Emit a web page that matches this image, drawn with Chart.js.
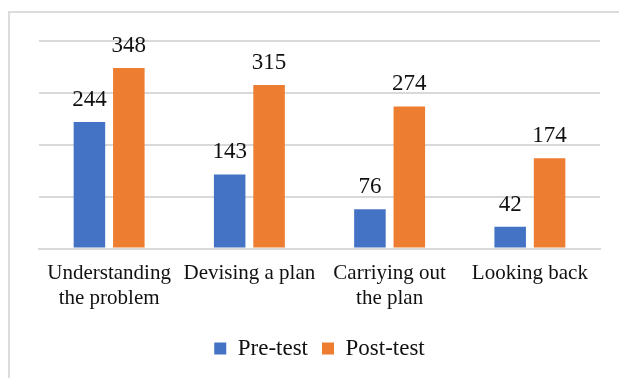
<!DOCTYPE html>
<html>
<head>
<meta charset="utf-8">
<script src="https://cdn.jsdelivr.net/npm/chart.js@4"></script>
<style>
  html, body { margin: 0; padding: 0; background: #fff; overflow: hidden; }
  #wrap { position: relative; width: 619px; height: 378px; overflow: hidden; }
  #frame { position: absolute; left: 8px; top: 11px; width: 700px; height: 500px;
           border: 2px solid #dcdcdc; box-sizing: border-box; }
  canvas { position: absolute; left: 0; top: 0; }
</style>
</head>
<body>
<div id="wrap">
  <div id="frame"></div>
  <canvas id="c" width="619" height="378"></canvas>
</div>
<script>
// Problem-solving stages (Polya) and scores before/after
const categories = [
  ['Understanding', 'the problem'],
  'Devising a plan',
  ['Carriying out', 'the plan'],
  'Looking back'
];
const preTest = [244, 143, 76, 42];
const postTest = [348, 315, 274, 174];
const yTicks = [0, 100, 200, 300, 400];

const FONT = "'Liberation Serif', 'Times New Roman', serif";

// Writes each bar's value above it
const valueLabels = {
  id: 'valueLabels',
  afterDatasetsDraw(chart) {
    const ctx = chart.ctx;
    ctx.save();
    ctx.font = '23px ' + FONT;
    ctx.fillStyle = '#111';
    ctx.textAlign = 'center';
    ctx.textBaseline = 'alphabetic';
    chart.data.datasets.forEach((ds, i) => {
      chart.getDatasetMeta(i).data.forEach((bar, j) => {
        ctx.fillText(String(ds.data[j]), bar.x, bar.y - 16);
      });
    });
    ctx.restore();
  }
};

new Chart(document.getElementById('c'), {
  type: 'bar',
  data: {
    labels: categories,
    datasets: [
      { label: 'Pre-test', data: preTest, backgroundColor: '#4472C4' },
      { label: 'Post-test', data: postTest, backgroundColor: '#ED7D31' }
    ]
  },
  options: {
    responsive: false,
    animation: false,
    devicePixelRatio: 1,
    layout: { padding: { left: 39, right: 19, top: 41, bottom: 8 } },
    datasets: { bar: { categoryPercentage: 0.562, barPercentage: 0.8 } },
    scales: {
      x: {
        grid: { display: false, drawTicks: false },
        border: { display: true, color: '#d9d9d9', width: 2 },
        ticks: { color: '#111', font: { family: FONT, size: 21 }, padding: 12, maxRotation: 0, autoSkip: false }
      },
      y: {
        min: yTicks[0],
        max: yTicks[yTicks.length - 1],
        afterBuildTicks(scale) { scale.ticks = yTicks.map(v => ({ value: v })); },
        grid: { color: '#d9d9d9', lineWidth: 2, drawTicks: false },
        border: { display: false },
        ticks: { display: false }
      }
    },
    plugins: {
      legend: {
        position: 'bottom',
        labels: {
          color: '#111',
          font: { family: FONT, size: 23 },
          boxWidth: 12,
          boxHeight: 12,
          padding: 14
        }
      },
      tooltip: { enabled: false }
    }
  },
  plugins: [valueLabels]
});
</script>
</body>
</html>
